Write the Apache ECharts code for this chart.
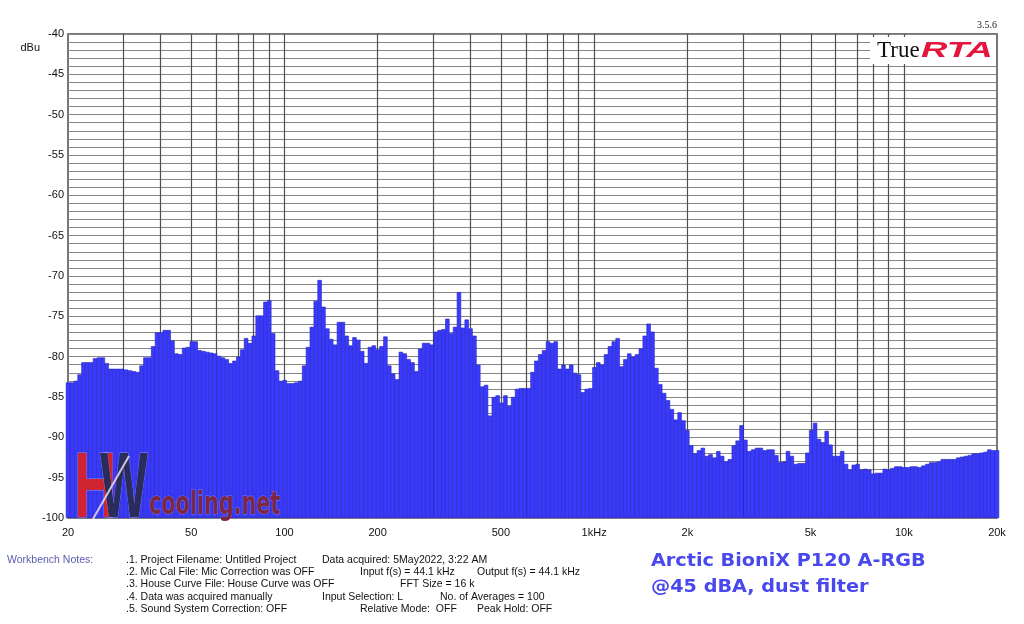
<!DOCTYPE html>
<html>
<head>
<meta charset="utf-8">
<title>TrueRTA spectrum</title>
<script src="https://cdn.jsdelivr.net/npm/echarts@6/dist/echarts.min.js"></script>
<style>
  html, body { margin: 0; padding: 0; background: #fff; }
  #chart { width: 1024px; height: 624px; }
</style>
</head>
<body>
<div id="chart"></div>
<script>
// 1/24-octave bands, first band centred on 20 Hz, last on 20 kHz
const BANDS_PER_OCTAVE = 24;
const START_HZ = 20;

// band levels in dBu
const LEVELS = [
  -83.2, -83.2, -83.0, -82.2, -80.7, -80.7, -80.7, -80.2, -80.1, -80.1,
  -80.8, -81.5, -81.5, -81.5, -81.5, -81.6, -81.7, -81.8, -81.9, -81.1,
  -80.1, -80.1, -78.7, -77.0, -77.0, -76.7, -76.7, -78.0, -79.6, -79.7,
  -78.9, -78.8, -78.1, -78.1, -79.2, -79.3, -79.4, -79.5, -79.6, -79.9,
  -80.1, -80.3, -80.8, -80.5, -80.0, -79.1, -77.7, -78.3, -77.4, -74.9,
  -74.9, -73.2, -73.0, -77.1, -81.7, -83.0, -82.9, -83.3, -83.3, -83.2,
  -83.0, -81.1, -78.8, -76.3, -73.1, -70.5, -73.8, -76.5, -77.8, -78.5,
  -75.7, -75.7, -77.4, -78.6, -77.6, -77.9, -79.3, -80.8, -78.8, -78.6,
  -79.1, -78.7, -77.5, -81.1, -82.1, -82.8, -79.4, -79.6, -80.3, -80.7,
  -81.8, -79.0, -78.3, -78.3, -78.5, -76.9, -76.7, -76.6, -75.3, -77.1,
  -76.3, -72.0, -76.4, -75.4, -76.5, -77.4, -81.0, -83.7, -83.5, -87.3,
  -85.0, -84.8, -85.7, -84.8, -86.1, -85.0, -84.0, -83.9, -83.9, -83.9,
  -81.9, -80.5, -79.7, -79.2, -78.1, -78.3, -78.1, -81.5, -81.0, -81.5,
  -81.0, -82.0, -82.2, -84.4, -84.0, -83.9, -81.3, -80.7, -81.0, -79.7,
  -78.7, -78.1, -77.7, -81.2, -80.3, -79.6, -80.0, -79.7, -79.0, -77.4,
  -75.9, -76.9, -81.4, -83.4, -84.5, -85.4, -86.5, -87.8, -86.9, -87.9,
  -89.1, -91.0, -92.0, -91.6, -91.3, -92.3, -92.1, -92.5, -91.7, -92.3,
  -93.0, -92.7, -91.0, -90.4, -88.5, -90.3, -91.7, -91.5, -91.3, -91.3,
  -91.6, -91.5, -91.5, -92.2, -93.1, -93.0, -91.7, -92.3, -93.3, -93.2,
  -93.2, -91.9, -89.1, -88.2, -90.2, -90.6, -89.2, -90.9, -92.3, -92.3,
  -91.7, -93.3, -94.0, -93.4, -93.3, -94.0, -93.9, -94.0, -94.5, -94.4,
  -94.4, -93.9, -94.0, -93.8, -93.6, -93.6, -93.7, -93.7, -93.6, -93.6,
  -93.7, -93.5, -93.3, -93.1, -93.1, -93.0, -92.7, -92.7, -92.7, -92.7,
  -92.5, -92.4, -92.3, -92.2, -92.0, -92.0, -91.9, -91.8, -91.5, -91.6,
  -91.6
];

const LABEL_HZ = [20, 50, 100, 200, 500, 1000, 2000, 5000, 10000, 20000];
const GRID_HZ = [30, 40, 50, 60, 70, 80, 90, 100, 200, 300, 400, 500, 600, 700, 800, 900,
  1000, 2000, 3000, 4000, 5000, 6000, 7000, 8000, 9000, 10000];

const DB_MIN = -100;
const DB_MAX = -40;

const NOTES = [
  '.1. Project Filename: Untitled Project',
  '.2. Mic Cal File: Mic Correction was OFF',
  '.3. House Curve File: House Curve was OFF',
  '.4. Data was acquired manually',
  '.5. Sound System Correction: OFF'
];
const NOTES_MID = [
  ['Data acquired: 5May2022, 3:22 AM', 322, 0],
  ['Input f(s) = 44.1 kHz', 360, 1],
  ['Output f(s) = 44.1 kHz', 477, 1],
  ['FFT Size = 16 k', 400, 2],
  ['Input Selection: L', 322, 3],
  ['No. of Averages = 100', 440, 3],
  ['Relative Mode:  OFF', 360, 4],
  ['Peak Hold: OFF', 477, 4]
];

const bandHz = LEVELS.map((_, k) => START_HZ * Math.pow(2, k / BANDS_PER_OCTAVE));

function hzLabel(logv) {
  const hz = Math.round(Math.pow(10, logv));
  if (hz === 1000) return '1kHz';
  if (hz >= 1000) return hz / 1000 + 'k';
  return String(hz);
}

const FONT = 'Arial, "Liberation Sans", sans-serif';
const GRID = { left: 68, top: 34, right: 27, bottom: 106 };

const graphics = [];

// TrueRTA logo and version
graphics.push(
  { type: 'rect', z: 50, shape: { x: 870, y: 37, width: 126, height: 27 }, style: { fill: '#fff' } },
  { type: 'text', z: 51, x: 877, y: 51, style: { text: 'True', font: '23px "Liberation Serif", "Times New Roman", serif', fill: '#111', verticalAlign: 'middle' } },
  { type: 'text', z: 51, x: 921, y: 51, scaleX: 1.66, style: { text: 'RTA', font: 'italic bold 22px "Liberation Sans", Arial, sans-serif', fill: '#e3173d', verticalAlign: 'middle' } },
  { type: 'text', z: 51, x: 997, y: 25, style: { text: '3.5.6', font: '10px "Liberation Serif", serif', fill: '#222', align: 'right', verticalAlign: 'middle' } },
  { type: 'text', z: 51, x: 40, y: 48, style: { text: 'dBu', font: '11px ' + FONT, fill: '#111', align: 'right', verticalAlign: 'middle' } }
);

// HWcooling watermark, on the same layer as the bars but above them
graphics.push(
  { type: 'text', zlevel: 1, z: 60, x: 74, y: 492, scaleX: 0.64, style: { text: 'H', font: 'bold 92px "Liberation Sans", Arial, sans-serif', verticalAlign: 'middle',
    fill: '#cf2431', stroke: 'rgba(255,255,255,0.4)', lineWidth: 1 } },
  { type: 'text', zlevel: 1, z: 60, x: 100, y: 492, scaleX: 0.55, style: { text: 'W', font: 'bold 92px "Liberation Sans", Arial, sans-serif', verticalAlign: 'middle',
    fill: '#2a2c5c', stroke: 'rgba(255,255,255,0.4)', lineWidth: 1 } },
  { type: 'line', zlevel: 1, z: 61, shape: { x1: 93, y1: 519, x2: 129, y2: 456 }, style: { stroke: 'rgba(235,225,240,0.85)', lineWidth: 2 } },
  { type: 'text', zlevel: 1, z: 60, x: 149, y: 506, scaleX: 0.72, style: { text: 'cooling.net', font: 'bold 32px "DejaVu Sans Condensed", "DejaVu Sans", sans-serif', verticalAlign: 'middle',
    fill: '#7c2842', stroke: 'rgba(255,255,255,0.3)', lineWidth: 1 } }
);

// workbench notes
graphics.push({ type: 'text', x: 7, y: 560, style: { text: 'Workbench Notes:', font: '10.5px ' + FONT, fill: '#5b5bb0', verticalAlign: 'middle' } });
NOTES.forEach((t, i) => {
  graphics.push({ type: 'text', x: 126, y: 560 + i * 12.3, style: { text: t, font: '10.5px ' + FONT, fill: '#111', verticalAlign: 'middle' } });
});
NOTES_MID.forEach(([t, x, row]) => {
  graphics.push({ type: 'text', x: x, y: 560 + row * 12.3, style: { text: t, font: '10.5px ' + FONT, fill: '#111', verticalAlign: 'middle' } });
});

// title
graphics.push(
  { type: 'text', x: 651, y: 562, scaleX: 1.13, style: { text: 'Arctic BioniX P120 A-RGB', font: 'bold 17px "DejaVu Sans", Verdana, sans-serif', fill: '#4848ee', verticalAlign: 'middle' } },
  { type: 'text', x: 651, y: 588, scaleX: 1.13, style: { text: '@45 dBA, dust filter', font: 'bold 17px "DejaVu Sans", Verdana, sans-serif', fill: '#4848ee', verticalAlign: 'middle' } }
);

const option = {
  animation: false,
  backgroundColor: '#fff',
  textStyle: { fontFamily: FONT },
  grid: Object.assign({ show: true, borderColor: '#4a4a4a', borderWidth: 1.5, backgroundColor: '#fff' }, GRID),
  xAxis: [
    {
      type: 'category',
      data: bandHz.map((f) => f.toFixed(1)),
      boundaryGap: false,
      show: false
    },
    {
      type: 'value',
      position: 'bottom',
      min: Math.log10(LABEL_HZ[0]),
      max: Math.log10(LABEL_HZ[LABEL_HZ.length - 1]),
      axisLine: { show: false },
      axisTick: { show: false },
      splitLine: { show: false },
      axisLabel: {
        customValues: LABEL_HZ.map((f) => Math.log10(f)),
        formatter: hzLabel,
        color: '#111',
        fontSize: 11,
        margin: 9
      }
    }
  ],
  yAxis: {
    type: 'value',
    min: 0,
    max: DB_MAX - DB_MIN,
    interval: 5,
    axisLine: { show: false },
    axisTick: { show: false },
    axisLabel: { formatter: (v) => String(v + DB_MIN), color: '#111', fontSize: 11, margin: 4 },
    splitLine: { show: true, lineStyle: { color: '#858585', width: 1 } },
    minorTick: { show: false, splitNumber: 5 },
    minorSplitLine: { show: true, lineStyle: { color: '#858585', width: 1 } }
  },
  graphic: graphics,
  series: [
    {
      type: 'line',
      xAxisIndex: 1,
      data: [],
      z: 1,
      silent: true,
      markLine: {
        z: 1,
        silent: true,
        symbol: 'none',
        label: { show: false },
        lineStyle: { color: '#505050', width: 1.2, type: 'solid' },
        data: GRID_HZ.map((f) => ({ xAxis: Math.log10(f) }))
      }
    },
    {
      type: 'bar',
      xAxisIndex: 0,
      zlevel: 1,
      z: 3,
      barWidth: 4.3,
      clip: true,
      itemStyle: { color: '#3a3aff', borderColor: '#2424c0', borderWidth: 0.6 },
      data: LEVELS.map((v) => v - DB_MIN)
    }
  ]
};

const chart = echarts.init(document.getElementById('chart'));
chart.setOption(option);
</script>
</body>
</html>
